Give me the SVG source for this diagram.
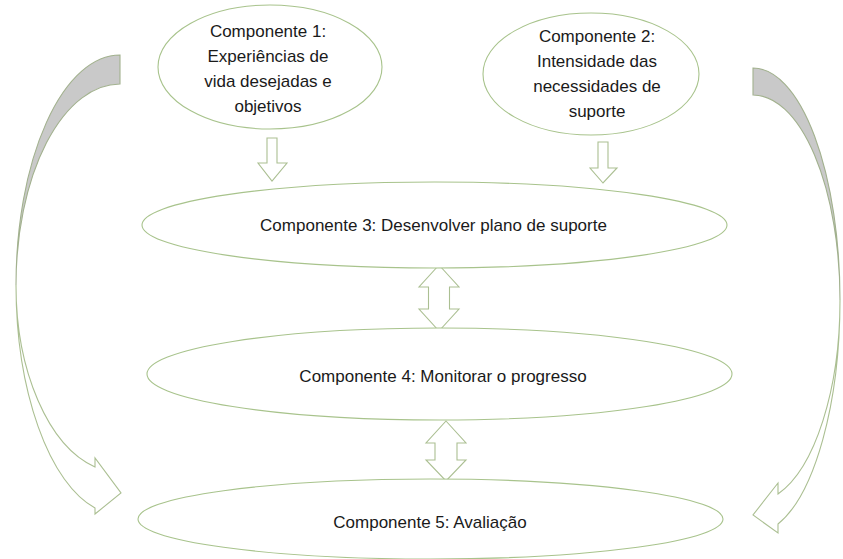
<svg xmlns="http://www.w3.org/2000/svg" width="843" height="559" viewBox="0 0 843 559">
<style>
.node ellipse{fill:#ffffff;stroke:#a8c38c;stroke-width:1.1}
.lbl{font-family:"Liberation Sans",Arial,sans-serif;font-size:17px;fill:#1a1a1a;text-anchor:middle}
.arr{fill:#ffffff;stroke:#abbf92;stroke-width:1.1;stroke-linejoin:miter}
.back{fill:#c9c9c9;stroke:#a2b18e;stroke-width:1.1}
</style>
<rect width="843" height="559" fill="#ffffff"/>
<g id="connectors">
  <path class="back" d="M120,55 A104,230 0 0 0 16,285 A104,201 0 0 1 120,84 Z"/>
  <path class="arr" d="M16,285 A104,230 0 0 0 95,508 L95,514 L121,493 L95,458 L95,467 A104,187 0 0 1 16,285 Z"/>
  <path class="back" d="M753,68 A87,232 0 0 1 840,300 A87,205 0 0 0 753,95 Z"/>
  <path class="arr" d="M840,300 A87,234 0 0 1 778,524 L778,533 L753,515 L778,483 L778,494 A87,202 0 0 0 840,300 Z"/>
  <path class="arr" d="M267,138 L277,138 L277,163 L287,163 L272,181 L258,163 L267,163 Z"/>
  <path class="arr" d="M598,142 L608,142 L608,168 L617,168 L603,183 L590,168 L598,168 Z"/>
  <path class="arr" d="M439,265 L459,287 L449.5,287 L449.5,309 L459,309 L439,331 L419,309 L428.5,309 L428.5,287 L419,287 Z"/>
  <path class="arr" d="M446,421 L466,443 L457,443 L457,460 L466,460 L446,481 L426,460 L435,460 L435,443 L426,443 Z"/>
</g>
<g id="node1" class="node">
  <ellipse cx="270" cy="67" rx="112" ry="62"/>
  <text class="lbl" x="268" y="37">Componente 1:</text>
  <text class="lbl" x="268" y="62">Experiências de</text>
  <text class="lbl" x="268" y="87">vida desejadas e</text>
  <text class="lbl" x="268" y="112">objetivos</text>
</g>
<g id="node2" class="node">
  <ellipse cx="591" cy="74" rx="108" ry="61"/>
  <text class="lbl" x="597" y="42">Componente 2:</text>
  <text class="lbl" x="597" y="67">Intensidade das</text>
  <text class="lbl" x="597" y="92">necessidades de</text>
  <text class="lbl" x="597" y="117">suporte</text>
</g>
<g id="node3" class="node">
  <ellipse cx="434.5" cy="225" rx="292.5" ry="43"/>
  <text class="lbl" x="433.5" y="231">Componente 3: Desenvolver plano de suporte</text>
</g>
<g id="node4" class="node">
  <ellipse cx="439.5" cy="374" rx="292.5" ry="46"/>
  <text class="lbl" x="443" y="382">Componente 4: Monitorar o progresso</text>
</g>
<g id="node5" class="node">
  <ellipse cx="430.5" cy="519" rx="292.5" ry="40"/>
  <text class="lbl" x="430" y="528">Componente 5: Avaliação</text>
</g>
</svg>
